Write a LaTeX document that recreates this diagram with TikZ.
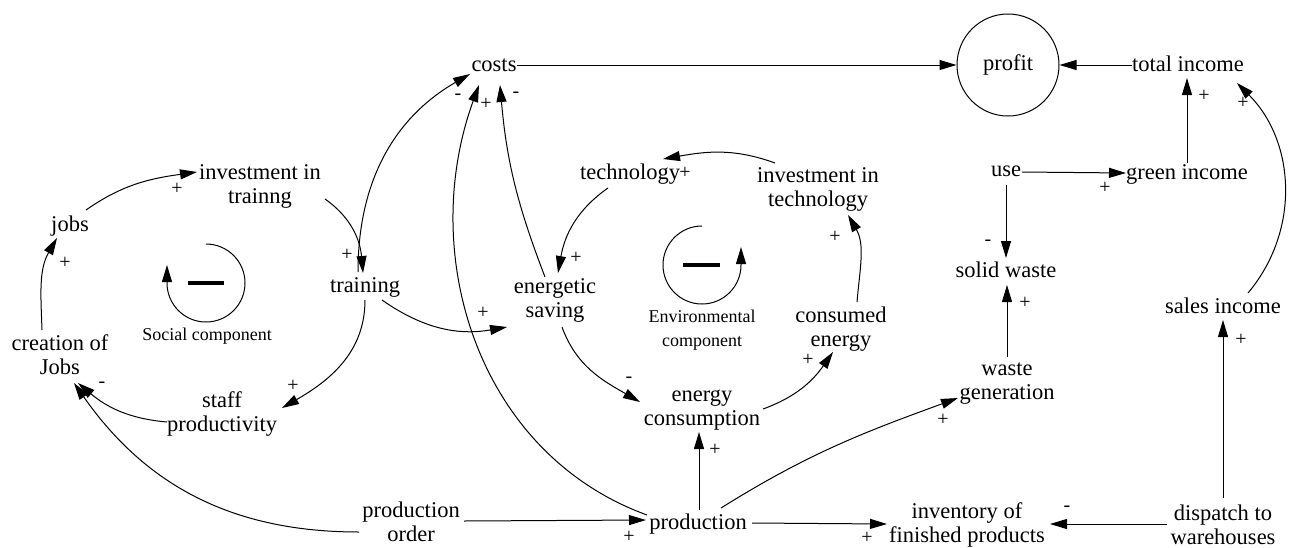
\documentclass[tikz,border=0pt]{standalone}
\usepackage{fontspec}
\setmainfont{Liberation Serif}
\usetikzlibrary{arrows.meta,calc}
\begin{document}
\begin{tikzpicture}[x=0.5pt,y=0.5pt,
  v/.style={font=\fontsize{11.25}{12}\selectfont, align=center, inner sep=0pt},
  v1/.style={v, text height=0.7em, text depth=0.24em},
  sg/.style={font=\fontsize{10}{12}\selectfont, inner sep=0pt},
  lk/.style={draw, line width=0.5pt, -{Triangle[length=8.5pt,width=5pt]}},
  lbl/.style={font=\fontsize{9}{12}\selectfont, align=center, inner sep=0pt},
  minus/.style={line width=1.6pt}]
\useasboundingbox (0,0) rectangle (1307,-547);
\clip (0,0) rectangle (1307,-547);
% nodes
\node[v1] (jobs) at (70,-227) {jobs};
\node[v] (invTrain) at (260,-186) {investment in\\trainng};
\node[v1] (training) at (365,-288) {training};
\node[v] (creation) at (60,-355) {creation of\\Jobs};
\node[v] (staff) at (222,-414) {staff\\productivity};
\node[v1] (costs) at (494,-67) {costs};
\node[v, draw, circle, line width=0.5pt, minimum size=51pt] (profit) at (1008,-65) {profit};
\node[v1] (totalIncome) at (1188,-67) {total income};
\node[v1] (technology) at (630,-175) {technology};
\node[v] (invTech) at (818,-189) {investment in\\technology};
\node[v] (saving) at (555,-300) {energetic\\saving};
\node[v] (econs) at (702,-410) {energy\\consumption};
\node[v] (consumed) at (841,-329) {consumed\\energy};
\node[v1] (use) at (1006,-172) {use};
\node[v1] (green) at (1187,-175) {green income};
\node[v1] (solid) at (1006,-273) {solid waste};
\node[v] (wastegen) at (1007,-384) {waste\\generation};
\node[v1] (sales) at (1223,-309) {sales income};
\node[v] (dispatch) at (1223,-525) {dispatch to\\warehouses};
\node[v] (inventory) at (967,-525) {inventory of\\finished products};
\node[v1] (production) at (698,-525) {production};
\node[v] (order) at (411,-522) {production\\order};
% connectors
\draw[lk] ($(jobs)+(16,17)$) to[out=35,in=188] ($(invTrain)+(-63,14)$);
\draw[lk] ($(creation)+(-18,25)$) to[out=92,in=240] ($(jobs)+(-13,-11)$);
\draw[lk] ($(invTrain)+(65,-13)$) to[out=-35,in=95] ($(training)+(-2,15)$);
\draw[lk] ($(training)+(0,-12)$) to[out=-90,in=30] ($(staff)+(60,6)$);
\draw[lk] ($(staff)+(-55,-8)$) to[out=175,in=-40] ($(creation)+(18,-28)$);
\draw[lk] ($(order)+(-52,-10)$) to[out=180,in=-55] ($(creation)+(14,-28)$);
\draw[lk] ($(order)+(53,1)$) -- ($(production)+(-52,5)$);
\draw[lk] ($(training)+(-7,16)$) to[out=90,in=210] ($(costs)+(-24,-7)$);
\draw[lk] ($(production)+(-51,10)$) to[out=160,in=250] ($(costs)+(-15,-18)$);
\draw[lk] ($(saving)+(-10,23)$) to[out=111,in=-85] ($(costs)+(6,-18)$);
\draw[lk] ($(technology)+(-22,-13)$) to[out=215,in=80] ($(saving)+(3,27)$);
\draw[lk] ($(training)+(17,-12)$) to[out=-35,in=190] ($(saving)+(-48,-27)$);
\draw[lk] ($(saving)+(7,-27)$) to[out=-70,in=150] ($(econs)+(-62,8)$);
\draw[lk] ($(econs)+(61,1)$) to[out=20,in=235] ($(consumed)+(-8,-23)$);
\draw[lk] ($(consumed)+(16,27)$) to[out=85,in=-60] ($(invTech)+(30,-26)$);
\draw[lk] ($(invTech)+(-43,26)$) to[out=160,in=10] ($(technology)+(33,16)$);
\draw[lk] ($(production)+(1,15)$) -- ($(econs)+(-3,-22)$);
\draw[lk] ($(production)+(23,17)$) to[out=32,in=200] ($(wastegen)+(-49,-14)$);
\draw[lk] ($(production)+(54,2)$) -- ($(inventory)+(-80,1)$);
\draw[lk] ($(dispatch)+(-56,1)$) -- ($(inventory)+(83,1)$);
\draw[lk] ($(dispatch)+(0,27)$) -- ($(sales)+(0,-11)$);
\draw[lk] ($(sales)+(25,16)$) to[out=50,in=-45] ($(totalIncome)+(49,-16)$);
\draw[lk] ($(wastegen)+(0,27)$) -- ($(solid)+(1,-12)$);
\draw[lk] ($(use)+(0,-13)$) -- ($(solid)+(0,15)$);
\draw[lk] ($(use)+(16,0)$) -- ($(green)+(-61,2)$);
\draw[lk] ($(green)+(0,12)$) -- ($(totalIncome)+(-1,-11)$);
\draw[lk] ($(totalIncome)+(-56,2)$) -- (profit.east);
\draw[lk] ($(costs)+(23,2)$) -- (profit.west);
% loops
\draw[lk] (206,-244) arc[start angle=90, end angle=-180, radius=39] -- ++(0,18);
\draw[minus] (188,-283) -- (224,-283);
\node[lbl] (socialLbl) at (207,-336) {Social component};
\draw[lk] (702,-226) arc[start angle=90, end angle=360, radius=39] -- ++(0,18);
\draw[minus] (683,-265) -- (720,-265);
\node[lbl] (envLbl) at (702,-330) {Environmental\\component};
% signs
\node[sg] at (177,-189) {+};
\node[sg] at (65,-263) {+};
\node[sg] at (347,-255) {+};
\node[sg] at (293,-386) {+};
\node[sg] at (102,-385) {-};
\node[sg] at (458,-97) {-};
\node[sg] at (486,-104) {+};
\node[sg] at (516,-95) {-};
\node[sg] at (685,-173) {+};
\node[sg] at (576,-258) {+};
\node[sg] at (483,-313) {+};
\node[sg] at (629,-380) {-};
\node[sg] at (808,-360) {+};
\node[sg] at (835,-237) {+};
\node[sg] at (715,-450) {+};
\node[sg] at (943,-420) {+};
\node[sg] at (867,-538) {+};
\node[sg] at (629,-537) {+};
\node[sg] at (1025,-303) {+};
\node[sg] at (988,-243) {-};
\node[sg] at (1105,-188) {+};
\node[sg] at (1204,-96) {+};
\node[sg] at (1243,-103) {+};
\node[sg] at (1241,-340) {+};
\node[sg] at (1067,-509) {-};
\end{tikzpicture}
\end{document}
